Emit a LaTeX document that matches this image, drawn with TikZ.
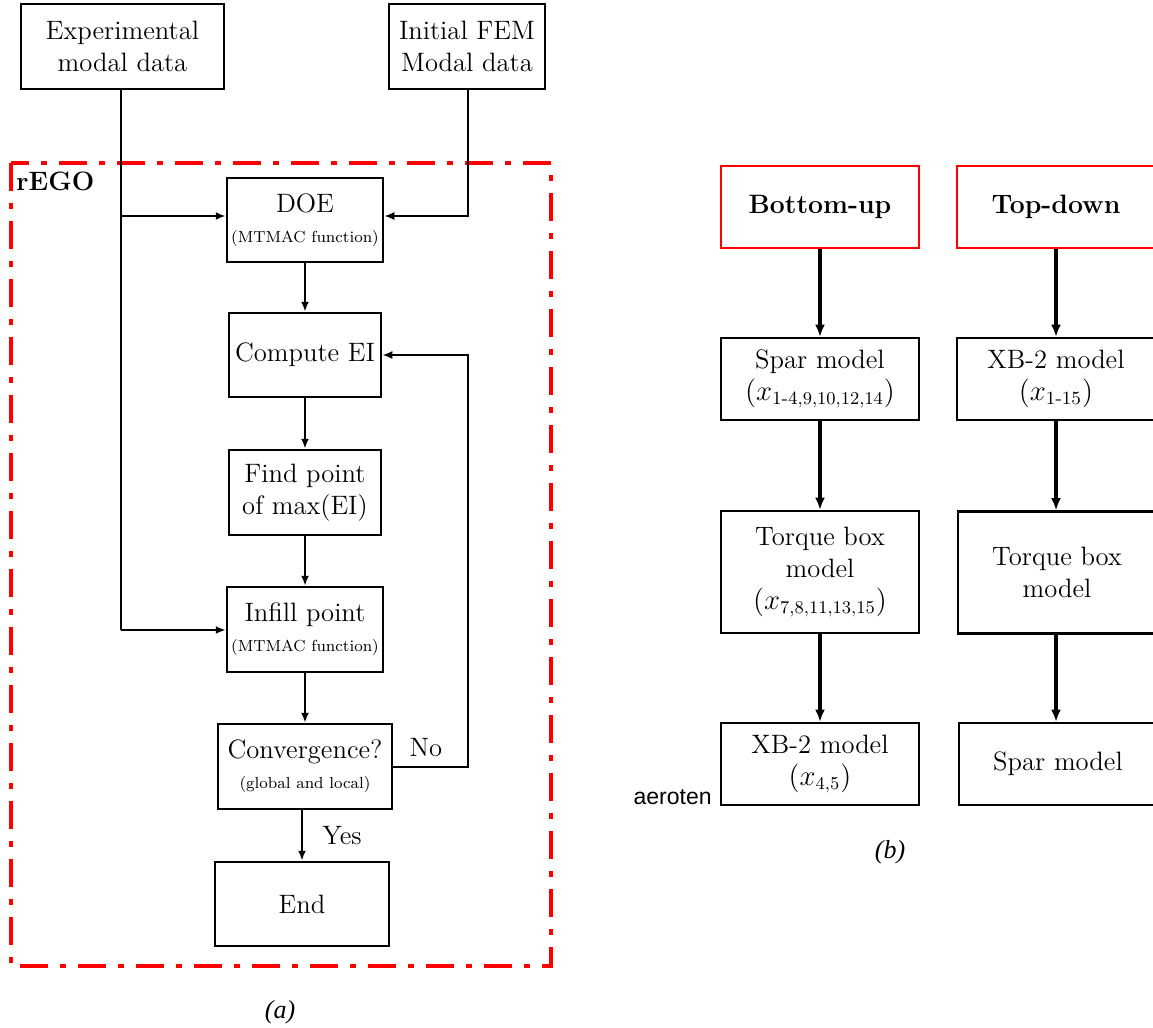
\documentclass[tikz,border=0pt]{standalone}
\usepackage{amsmath}
\usepackage{fontspec}
\newfontfamily\arialf{Liberation Sans}
\newfontfamily\timesf{Liberation Serif}
\usetikzlibrary{arrows.meta}
\newcommand{\smalltxt}[1]{{\fontsize{8}{9.5}\selectfont #1}}
\begin{document}
\begin{tikzpicture}[x=0.5pt,y=-0.5pt,
  every node/.style={font=\fontsize{13.3}{16}\selectfont},
  lbox/.style={draw, line width=1.25pt, align=center, inner sep=0pt},
  rbox/.style={draw, line width=1.3pt, align=center, inner sep=0pt, minimum width=99pt},
  redbox/.style={draw=red, line width=1pt, align=center, inner sep=0pt, minimum width=99pt, minimum height=41pt, font=\fontsize{13.3}{16}\selectfont\bfseries},
  larrow/.style={line width=1pt, -{Latex[length=5pt,width=4pt]}},
  lline/.style={line width=1pt},
  rarrow/.style={line width=1.6pt, -{Latex[length=6pt,width=5pt]}},
  regobox/.style={draw=red, line width=2pt, dash pattern=on 14pt off 6pt on 3pt off 6pt}
]
\useasboundingbox (0,0) rectangle (1153,1028);

% ---------- (a) ----------
\draw[regobox] (11,163) rectangle (551,966);
\node[anchor=north west, inner sep=0pt, font=\fontsize{13.3}{16}\selectfont\bfseries] (rego) at (16,172) {rEGO};

\node[lbox, minimum width=101.5pt, minimum height=42.5pt] (exp) at (122.5,46.5) {Experimental\\modal data};
\node[lbox, minimum width=78pt, minimum height=42.5pt] (fem) at (467,46.5) {Initial FEM\\Modal data};
\node[lbox, minimum width=78pt, minimum height=42pt] (doe) at (305,220) {DOE\\[-1pt]\smalltxt{(MTMAC function)}};
\node[lbox, minimum width=76pt, minimum height=42pt] (cei) at (305,355) {Compute EI};
\node[lbox, minimum width=76pt, minimum height=42.5pt] (fp) at (305,492.5) {Find point\\of max(EI)};
\node[lbox, minimum width=78pt, minimum height=42.5pt] (inf) at (305,629.5) {Infill point\\[-1pt]\smalltxt{(MTMAC function)}};
\node[lbox, minimum width=87pt, minimum height=42.5pt] (conv) at (305,766.5) {Convergence?\\[-1pt]\smalltxt{(global and local)}};
\node[lbox, minimum width=87pt, minimum height=42pt] (endn) at (302,904) {End};

\coordinate (j1) at (121,216);
\coordinate (j2) at (121,630);
\coordinate (k1) at (468,216);
\coordinate (f1) at (468,767);
\coordinate (f2) at (468,355);

\draw[lline] (exp.south -| j1) -- (j2);
\draw[larrow] (j1) -- (doe.west |- j1);
\draw[larrow] (j2) -- (inf.west |- j2);
\draw[larrow] (fem.south -| k1) -- (k1) -- (doe.east |- k1);
\draw[larrow] (doe.south) -- (cei.north);
\draw[larrow] (cei.south) -- (fp.north);
\draw[larrow] (fp.south) -- (inf.north);
\draw[larrow] (inf.south) -- (conv.north);
\draw[larrow] (conv.east |- f1) -- (f1) -- (f2) -- (cei.east |- f2);
\draw[larrow] (conv.south -| endn.north) -- (endn.north);

\node (no) at (426,748) {No};
\node (yes) at (342,836) {Yes};
\node[font=\fontsize{13}{15}\timesf\itshape] (cap-a) at (280,1012) {(a)};

% ---------- (b) ----------
\node[redbox] (bu) at (820,207) {Bottom-up};
\node[redbox] (td) at (1056,207) {Top-down};
\node[rbox, minimum height=41pt] (sm1) at (820,379) {Spar model\\$(x_{\text{1-4},9,10,12,14})$};
\node[rbox, minimum height=41pt] (xb1) at (1056,379) {XB-2 model\\$(x_{\text{1-15}})$};
\node[rbox, minimum height=61pt] (tb1) at (820,572) {Torque box\\model\\$(x_{7,8,11,13,15})$};
\node[rbox, minimum height=61pt] (tb2) at (1057,572.5) {Torque box\\model};
\node[rbox, minimum height=41pt] (xb2) at (820,764) {XB-2 model\\$(x_{4,5})$};
\node[rbox, minimum height=41pt] (sm2) at (1058,764) {Spar model};

\draw[rarrow] (bu.south) -- (sm1.north);
\draw[rarrow] (sm1.south) -- (tb1.north);
\draw[rarrow] (tb1.south) -- (xb2.north);
\draw[rarrow] (td.south) -- (xb1.north);
\draw[rarrow] (xb1.south) -- (tb2.north -| xb1.south);
\draw[rarrow] (tb2.south -| xb1.south) -- (sm2.north -| xb1.south);

\node[anchor=base east, inner sep=0pt, font=\fontsize{11.5}{14}\arialf] (aer) at (712,804) {aeroten};
\node[font=\fontsize{13}{15}\timesf\itshape] (cap-b) at (890,852) {(b)};
\end{tikzpicture}
\end{document}
